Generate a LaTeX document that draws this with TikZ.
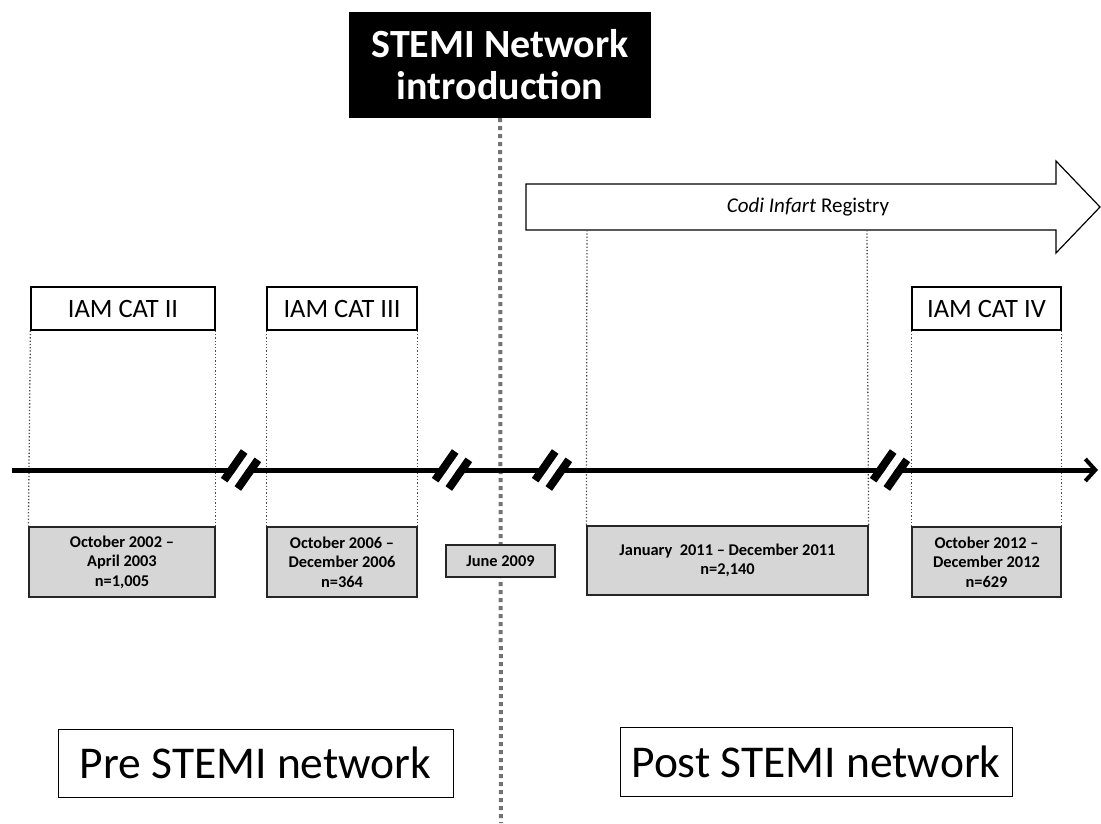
\documentclass[tikz,border=0pt]{standalone}
\usepackage{fontspec}
\setmainfont{Carlito}
\usetikzlibrary{calc,arrows.meta}

\tikzset{
	lbl/.style={draw=black,line width=1.2pt,fill=white,inner sep=0pt,minimum height=43pt,font=\fontsize{26.5}{30}\selectfont},
	period/.style={draw=black!85,line width=1.2pt,fill=black!16,inner sep=0pt,align=center,font=\bfseries\fontsize{16.4}{19.5}\selectfont},
	era/.style={draw=black,line width=1pt,fill=white,inner sep=0pt,font=\fontsize{45.5}{50}\selectfont},
	guide/.style={black!70,line width=1.3pt,dotted},
}

\begin{document}
\begin{tikzpicture}[x=1pt,y=-1pt]
	\useasboundingbox (0,0) rectangle (1101,823);
	%
	\node[fill=black,text=white,minimum width=302pt,minimum height=106pt,inner sep=0pt,align=center,font=\bfseries\fontsize{40}{42}\selectfont] (intro) at (500,65) {STEMI Network\\introduction};
	\coordinate (bot) at (501,823);
	\draw[black!55,line width=4pt,dash pattern=on 4pt off 4pt] (intro.south) -- (bot);
	%
	\draw[line width=1.2pt,fill=white] (526,184) -- (1056,184) -- (1056,161) -- (1100,207) -- (1056,253) -- (1056,230) -- (526,230) -- cycle;
	\node[font=\fontsize{21}{24}\selectfont] (reg) at (808,207) {\textit{Codi Infart} Registry};
	\coordinate (regA) at (587,230);
	\coordinate (regB) at (867,230);
	%
	\node[lbl,minimum width=184pt] (cat2) at (123,308.5) {IAM CAT II};
	\node[lbl,minimum width=150pt] (cat3) at (342,308.5) {IAM CAT III};
	\node[lbl,minimum width=149pt] (cat4) at (986.5,308.5) {IAM CAT IV};
	%
	\node[period,minimum width=186pt,minimum height=70pt] (p2) at (122,562) {October 2002 --\\April 2003\\n=1,005};
	\node[period,minimum width=150pt,minimum height=70pt] (p3) at (342,562) {October 2006 --\\December 2006\\n=364};
	\node[period,minimum width=109pt,minimum height=32pt] (jun) at (500.5,561) {June 2009};
	\node[period,minimum width=281pt,minimum height=69pt] (reg11) at (727.5,560.5) {January\ \ 2011 -- December 2011\\n=2,140};
	\node[period,minimum width=149pt,minimum height=70pt] (p4) at (986.5,562) {October 2012 --\\December 2012\\n=629};
	%
	\draw[guide] (cat2.south west) -- (p2.north west);
	\draw[guide] (cat2.south east) -- (p2.north east);
	\draw[guide] (cat3.south west) -- (p3.north west);
	\draw[guide] (cat3.south east) -- (p3.north east);
	\draw[guide] (cat4.south west) -- (p4.north west);
	\draw[guide] (cat4.south east) -- (p4.north east);
	\draw[guide] (regA) -- (reg11.north west);
	\draw[guide] (regB) -- (reg11.north east);
	%
	\coordinate (axL) at (12,470);
	\coordinate (axR) at (1098,470);
	\draw[line width=5pt,-{Straight Barb[length=10pt,width=22pt,line width=4pt]}] (axL) -- (axR);
	\foreach \bx in {241,452,552,890}{
		\begin{scope}[shift={(\bx,470)},rotate=55]
			\fill[white] (-10pt,-4pt) rectangle (10pt,4pt);
			\fill[black] (-18pt,4pt) rectangle (17pt,12pt);
			\fill[black] (-17pt,-12pt) rectangle (18pt,-4pt);
		\end{scope}
	}
	%
	\node[era,minimum width=395pt,minimum height=68pt] (pre) at (255.5,763) {Pre STEMI network};
	\node[era,minimum width=392pt,minimum height=69pt] (post) at (816,761.5) {Post STEMI network};
\end{tikzpicture}
\end{document}
